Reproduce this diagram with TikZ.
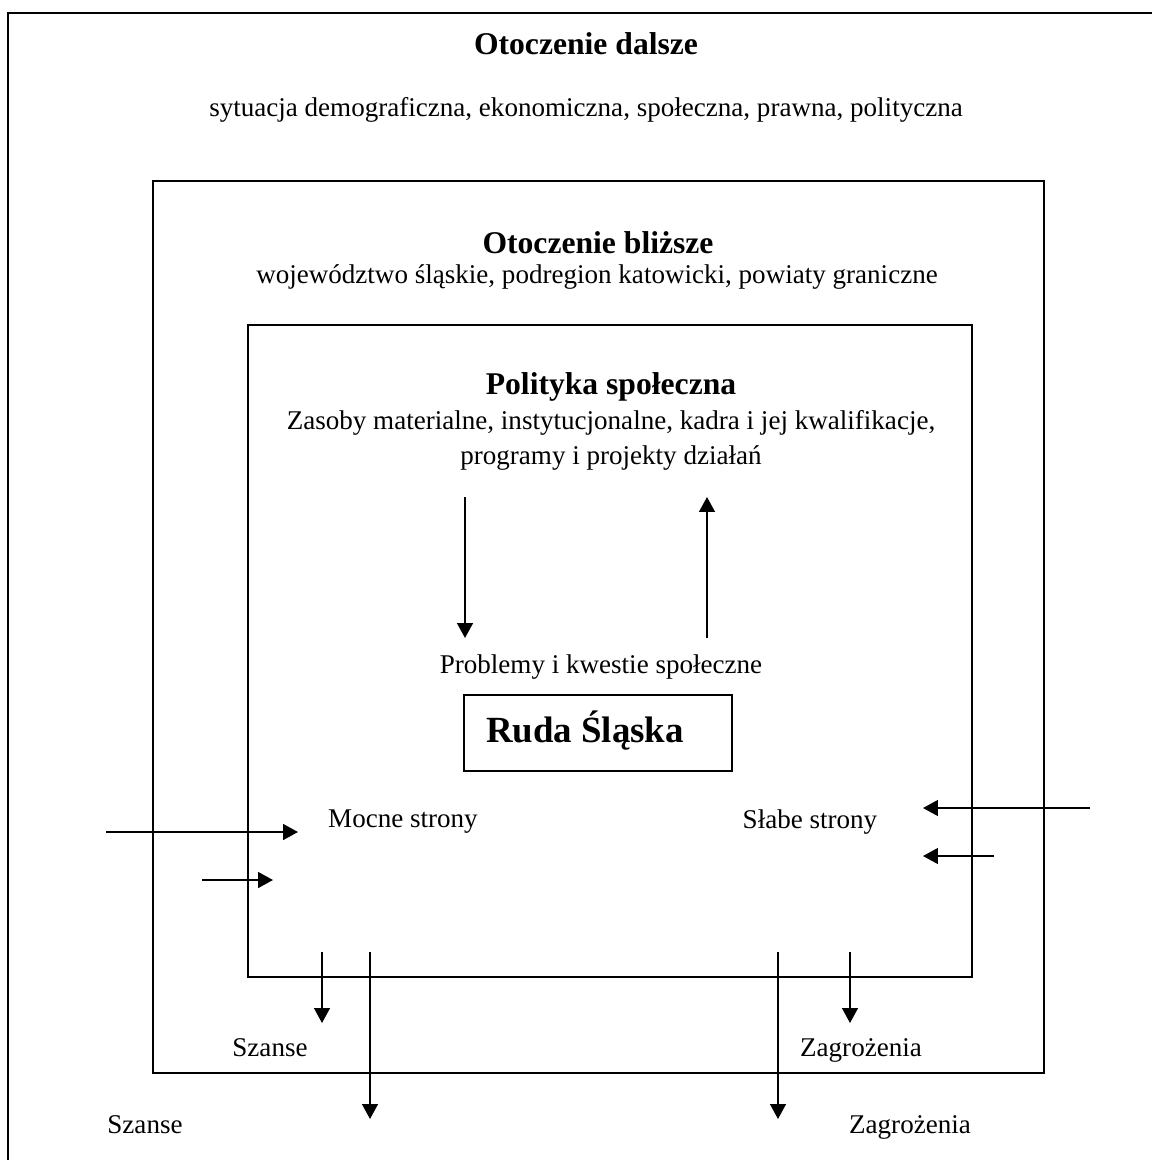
\documentclass[tikz,border=0pt]{standalone}
\usepackage{fontspec}
\setmainfont{Liberation Serif}
\usetikzlibrary{arrows.meta,positioning}

\begin{document}
\begin{tikzpicture}[x=0.02cm, y=-0.02cm,
  frame/.style={draw, line width=1.6pt},
  title/.style={font=\fontsize{18}{21}\selectfont\bfseries, inner sep=0pt},
  txt/.style={font=\fontsize{15.4}{20}\selectfont, align=center, inner sep=0pt},
  rudabox/.style={rectangle, draw, line width=1.6pt, minimum width=5.36cm,
                  minimum height=1.52cm},
  rudatxt/.style={font=\fontsize{21}{24}\selectfont\bfseries, inner sep=0pt},
  arr/.style={-{Triangle[length=8.5pt, width=9pt]}, line width=1.1pt}
]
\useasboundingbox (0,0) rectangle (1152,1160);

% Frames
\begin{scope}
  \clip (0,0) rectangle (1152,1160);
  \draw[frame] (8,13) rectangle (1200,1200);
\end{scope}
\draw[frame] (153,181) rectangle (1044,1073);
\draw[frame] (248,325) rectangle (972,977);

% Outer context
\node[title] (dalsze) at (586,44) {Otoczenie dalsze};
\node[txt]   (dalszetxt) at (586,110)
  {sytuacja demograficzna, ekonomiczna, społeczna, prawna, polityczna};

% Nearer context
\node[title] (blizsze) at (598,243) {Otoczenie bliższe};
\node[txt]   (blizszetxt) at (597,277)
  {województwo śląskie, podregion katowicki, powiaty graniczne};

% Social policy
\node[title] (polityka) at (611,387) {Polityka społeczna};
\node[txt]   (politykatxt) at (611,440)
  {Zasoby materialne, instytucjonalne, kadra i jej kwalifikacje,\\
   programy i projekty działań};

\node[txt]     (problemy) at (601,667) {Problemy i kwestie społeczne};
\node[rudabox] (ruda) at (598,733) {};
\node[rudatxt] (rudaname) at (585,731) {Ruda Śląska};

\node[txt] (mocne) at (403,822) {Mocne strony};
\node[txt] (slabe) at (810,822) {Słabe strony};

\node[txt] (szanse1)  at (270,1048) {Szanse};
\node[txt] (zagroz1)  at (861,1050) {Zagrożenia};
\node[txt] (szanse2)  at (145,1125) {Szanse};
\node[txt] (zagroz2)  at (910,1127) {Zagrożenia};

% Arrow ends
\coordinate (downA) at (465,497);  \coordinate (downB) at (465,638);
\coordinate (upA)   at (707,638);  \coordinate (upB)   at (707,497);
\coordinate (inL1)  at (106,832);  \coordinate (inL1e) at (298,832);
\coordinate (inL2)  at (202,880);  \coordinate (inL2e) at (273,880);
\coordinate (inR1)  at (1090,808); \coordinate (inR1e) at (923,808);
\coordinate (inR2)  at (994,856);  \coordinate (inR2e) at (923,856);
\coordinate (outS1) at (322,952);  \coordinate (outS1e) at (322,1023);
\coordinate (outS2) at (370,952);  \coordinate (outS2e) at (370,1119);
\coordinate (outZ2) at (778,952);  \coordinate (outZ2e) at (778,1119);
\coordinate (outZ1) at (850,952);  \coordinate (outZ1e) at (850,1023);

% Arrows
\draw[arr] (downA) -- (downB);
\draw[arr] (upA) -- (upB);
\draw[arr] (inL1) -- (inL1e);
\draw[arr] (inL2) -- (inL2e);
\draw[arr] (inR1) -- (inR1e);
\draw[arr] (inR2) -- (inR2e);
\draw[arr] (outS1) -- (outS1e);
\draw[arr] (outS2) -- (outS2e);
\draw[arr] (outZ2) -- (outZ2e);
\draw[arr] (outZ1) -- (outZ1e);
\end{tikzpicture}
\end{document}
